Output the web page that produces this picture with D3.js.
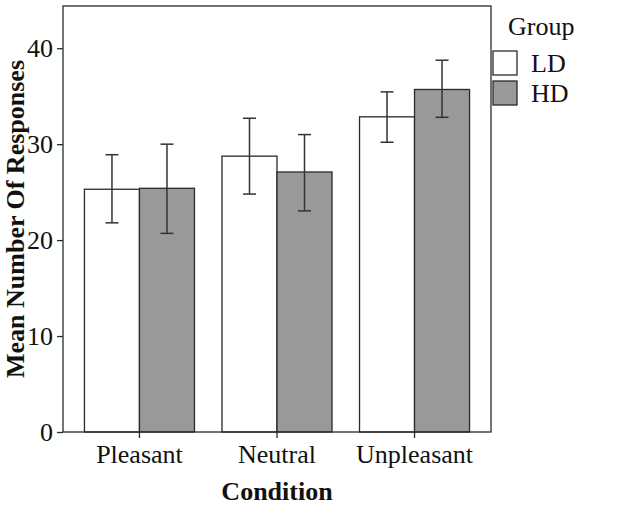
<!DOCTYPE html>
<html>
<head>
<meta charset="utf-8">
<script src="https://cdn.jsdelivr.net/npm/d3@7"></script>
<style>
  body { margin: 0; background: #fff; }
  svg { display: block; }
  text { font-family: "Liberation Serif", "Times New Roman", serif; fill: #111; }
</style>
</head>
<body>
<svg id="chart" width="630" height="508"></svg>
<script>
const categories = ["Pleasant", "Neutral", "Unpleasant"];
const groups = ["LD", "HD"];
const ldMeans = [25.3, 28.75, 32.85];
const hdMeans = [25.4, 27.1, 35.7];
const ldUpper = [28.9, 32.7, 35.45];
const ldLower = [21.8, 24.8, 30.2];
const hdUpper = [30.0, 31.0, 38.75];
const hdLower = [20.7, 23.05, 32.8];
const yTicks = [0, 10, 20, 30, 40];
const groupColors = ["#ffffff", "#999999"];

const svg = d3.select("#chart");
const pLeft = 63, pRight = 491, pTop = 6, pBottom = 432;
const fs = 26;

const x0 = d3.scaleBand().domain(categories).range([pLeft, pRight])
  .paddingInner(0.2).paddingOuter(0.156);
const x1 = d3.scaleBand().domain(groups).range([0, x0.bandwidth()]);
const y = d3.scaleLinear().domain([0, 44.4]).range([pBottom, pTop]);
const color = d3.scaleOrdinal().domain(groups).range(groupColors);

const rows = [];
categories.forEach((c, i) => {
  rows.push({cat: c, group: "LD", mean: ldMeans[i], lo: ldLower[i], hi: ldUpper[i]});
  rows.push({cat: c, group: "HD", mean: hdMeans[i], lo: hdLower[i], hi: hdUpper[i]});
});

const stroke = "#2a2a2a";

// bars
svg.append("g").selectAll("rect").data(rows).join("rect")
  .attr("x", d => x0(d.cat) + x1(d.group))
  .attr("y", d => y(d.mean))
  .attr("width", x1.bandwidth())
  .attr("height", d => y(0) - y(d.mean))
  .attr("fill", d => color(d.group))
  .attr("stroke", stroke)
  .attr("stroke-width", 1.3);

// error bars
const eb = svg.append("g").attr("stroke", "#333").attr("stroke-width", 1.5);
rows.forEach(d => {
  const cx = x0(d.cat) + x1(d.group) + x1.bandwidth() / 2;
  eb.append("line").attr("x1", cx).attr("x2", cx).attr("y1", y(d.lo)).attr("y2", y(d.hi));
  eb.append("line").attr("x1", cx - 6.5).attr("x2", cx + 6.5).attr("y1", y(d.lo)).attr("y2", y(d.lo));
  eb.append("line").attr("x1", cx - 6.5).attr("x2", cx + 6.5).attr("y1", y(d.hi)).attr("y2", y(d.hi));
});

// axes
const yAxis = svg.append("g").attr("transform", `translate(${pLeft},0)`)
  .call(d3.axisLeft(y).tickValues(yTicks).tickSize(6).tickPadding(4));
const xAxis = svg.append("g").attr("transform", `translate(0,${pBottom})`)
  .call(d3.axisBottom(x0).tickSize(6).tickPadding(7));
[yAxis, xAxis].forEach(a => {
  a.select(".domain").remove();
  a.selectAll("line").attr("stroke", stroke).attr("stroke-width", 1.3);
  a.selectAll("text").attr("font-size", fs).attr("font-family", "Liberation Serif").attr("fill", "#111");
});

// frame
svg.append("rect").attr("x", pLeft).attr("y", pTop)
  .attr("width", pRight - pLeft).attr("height", pBottom - pTop)
  .attr("fill", "none").attr("stroke", stroke).attr("stroke-width", 1.3);

// titles
svg.append("text").attr("x", (pLeft + pRight) / 2).attr("y", 500)
  .attr("text-anchor", "middle").attr("font-size", fs).attr("font-weight", "bold")
  .text("Condition");
svg.append("text").attr("transform", `translate(24,${(pTop + pBottom) / 2}) rotate(-90)`)
  .attr("text-anchor", "middle").attr("font-size", fs).attr("font-weight", "bold")
  .text("Mean Number Of Responses");

// legend
const lg = svg.append("g");
lg.append("text").attr("x", 508).attr("y", 35).attr("font-size", fs).text("Group");
groups.forEach((g, i) => {
  lg.append("rect").attr("x", 493).attr("y", 51 + i * 30).attr("width", 24).attr("height", 24)
    .attr("fill", color(g)).attr("stroke", stroke).attr("stroke-width", 1.3);
  lg.append("text").attr("x", 531).attr("y", 72 + i * 30).attr("font-size", fs).text(g);
});
</script>
</body>
</html>
